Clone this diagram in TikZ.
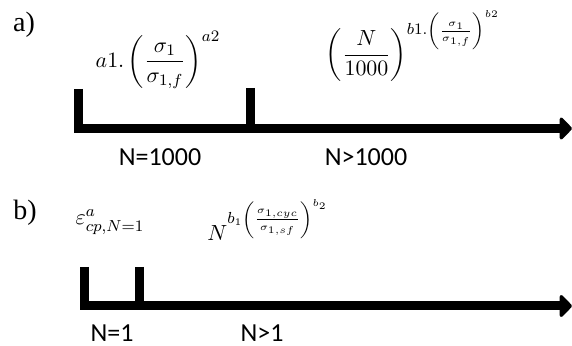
\documentclass[tikz,border=0pt]{standalone}
\usepackage{amsmath,amssymb}
\usepackage{fontspec}
\setmainfont{Liberation Serif}
\newfontfamily\lblfont{Carlito}
\usepackage{tikz}
\usetikzlibrary{arrows.meta,positioning,calc}
\tikzset{
  base/.style={inner sep=0pt, text=black},
  panel/.style={base, font=\fontsize{14}{16}\selectfont},
  lbl/.style={base, font=\lblfont\fontsize{13}{15}\selectfont},
  eq/.style={base, font=\fontsize{11}{13}\selectfont},
  axis/.style={line width=4.5pt, draw=black, -{Triangle[round,length=6.5pt,width=13pt]}},
  tick/.style={line width=4.5pt, draw=black},
}

\begin{document}
\begin{tikzpicture}[x=0.5pt,y=-0.5pt]
  \useasboundingbox (0,0) rectangle (572,346);
  % a) split at N=1000
  \node[panel] (pa) at (24,25) {a)};
  \coordinate (a0t) at (78,89);  \coordinate (a0) at (78,128.5);
  \coordinate (a1t) at (250.5,88); \coordinate (a1) at (250.5,128.5);
  \coordinate (aend) at (572,128.5);
  \draw[axis] (a0t) -- (a0) -- (aend);
  \draw[tick] (a1t) -- (a1);
  \node[eq] (fa1) at (158,60) {$a1.\left(\dfrac{\sigma_1}{\sigma_{1,f}}\right)^{a2}$};
  \node[eq] (fa2) at (413,46) {$\left(\dfrac{N}{1000}\right)^{b1.\left(\frac{\sigma_1}{\sigma_{1,f}}\right)^{b2}}$};
  \node[lbl] (la1) at (160,157) {N=1000};
  \node[lbl] (la2) at (366,157) {N>1000};
  % b) split at N=1
  \node[panel] (pb) at (25,213) {b)};
  \coordinate (b0t) at (84,267);  \coordinate (b0) at (84,306);
  \coordinate (b1t) at (139,267); \coordinate (b1) at (139,306);
  \coordinate (bend) at (572,306);
  \draw[axis] (b0t) -- (b0) -- (bend);
  \draw[tick] (b1t) -- (b1);
  \node[eq] (fb1) at (110,222) {$\varepsilon^{a}_{cp,N=1}$};
  \node[eq] (fb2) at (268,220) {$N^{b_1\left(\frac{\sigma_{1,cyc}}{\sigma_{1,sf}}\right)^{b_2}}$};
  \node[lbl] (lb1) at (112,333) {N=1};
  \node[lbl] (lb2) at (262,333) {N>1};
\end{tikzpicture}
\end{document}
